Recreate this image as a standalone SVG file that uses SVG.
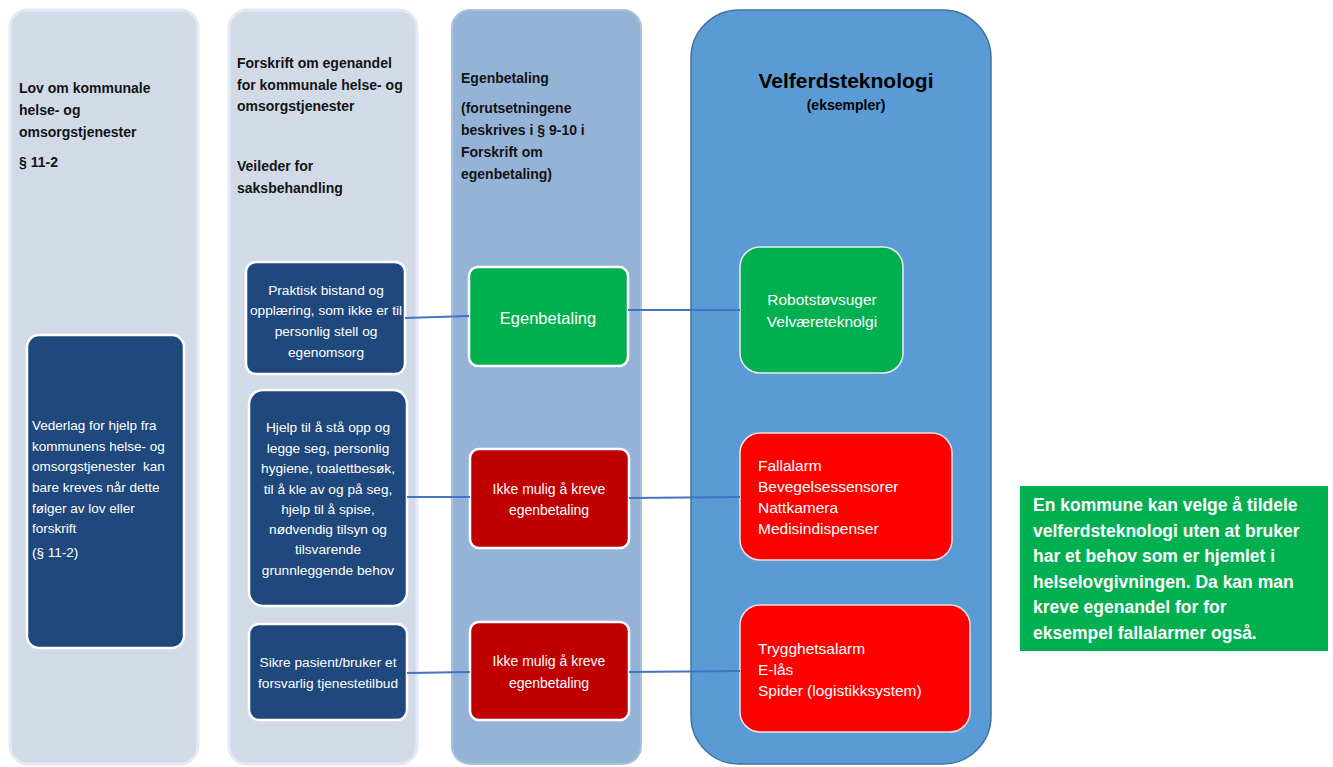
<svg xmlns="http://www.w3.org/2000/svg" width="1333" height="767" viewBox="0 0 1333 767">
<style>
.col{fill:#d2dae8;stroke:#e4eaf4;stroke-width:3}
.hdr{font-family:"Liberation Sans",Arial,sans-serif;font-weight:bold;font-size:14px;fill:#141414}
.navy{fill:#1f497d;stroke:#ffffff;stroke-width:2.5}
.wt{font-family:"Liberation Sans",Arial,sans-serif;fill:#ffffff}
.c{text-anchor:middle}
.con{stroke:#4472c4;stroke-width:2;fill:none}
</style>
<rect width="1333" height="767" fill="#ffffff"/>
<g id="col1">
<rect class="col" x="10" y="10" width="188" height="754" rx="18"/>
<text class="hdr"><tspan x="19" y="93">Lov om kommunale</tspan><tspan x="19" y="115">helse- og</tspan><tspan x="19" y="137">omsorgstjenester</tspan><tspan x="19" y="167">§ 11-2</tspan></text>
</g>
<g id="col1-box">
<rect class="navy" x="27" y="335" width="157" height="313" rx="12"/>
<text class="wt" font-size="13.5"><tspan x="32" y="430">Vederlag for hjelp fra</tspan><tspan x="32" y="451">kommunens helse- og</tspan><tspan x="32" y="471">omsorgstjenester&#160; kan</tspan><tspan x="32" y="492">bare kreves når dette</tspan><tspan x="32" y="513">følger av lov eller</tspan><tspan x="32" y="533">forskrift</tspan><tspan x="32" y="557">(§ 11-2)</tspan></text>
</g>
<g id="col2">
<rect class="col" x="229" y="10" width="188" height="754" rx="18"/>
<text class="hdr"><tspan x="237" y="68">Forskrift om egenandel</tspan><tspan x="237" y="90">for kommunale helse- og</tspan><tspan x="237" y="111">omsorgstjenester</tspan><tspan x="237" y="171">Veileder for</tspan><tspan x="237" y="193">saksbehandling</tspan></text>
</g>
<g id="box-a">
<rect class="navy" x="246" y="262" width="159" height="112" rx="10"/>
<text class="wt c" font-size="13.7"><tspan x="326" y="295">Praktisk bistand og</tspan><tspan x="326" y="315">opplæring, som ikke er til</tspan><tspan x="326" y="336">personlig stell og</tspan><tspan x="326" y="357">egenomsorg</tspan></text>
</g>
<g id="box-b">
<rect class="navy" x="249" y="390" width="158" height="216" rx="14"/>
<text class="wt c" font-size="13.7"><tspan x="328" y="432">Hjelp til å stå opp og</tspan><tspan x="328" y="453">legge seg, personlig</tspan><tspan x="328" y="473">hygiene, toalettbesøk,</tspan><tspan x="328" y="494">til å kle av og på seg,</tspan><tspan x="328" y="514">hjelp til å spise,</tspan><tspan x="328" y="534">nødvendig tilsyn og</tspan><tspan x="328" y="554">tilsvarende</tspan><tspan x="328" y="575">grunnleggende behov</tspan></text>
</g>
<g id="box-c">
<rect class="navy" x="249" y="624" width="158" height="96" rx="10"/>
<text class="wt c" font-size="13.7"><tspan x="328" y="667">Sikre pasient/bruker et</tspan><tspan x="328" y="688">forsvarlig tjenestetilbud</tspan></text>
</g>
<g id="col3">
<rect x="452" y="10" width="189" height="754" rx="18" fill="#95b3d7" stroke="#a9c1df" stroke-width="2"/>
<text class="hdr"><tspan x="461" y="83">Egenbetaling</tspan><tspan x="461" y="113">(forutsetningene</tspan><tspan x="461" y="135">beskrives i § 9-10 i</tspan><tspan x="461" y="157">Forskrift om</tspan><tspan x="461" y="179">egenbetaling)</tspan></text>
</g>
<g id="egen">
<rect x="469" y="267" width="159" height="99" rx="9" fill="#00b050" stroke="#ffffff" stroke-width="2.5"/>
<text class="wt c" font-size="16.5" x="548" y="324">Egenbetaling</text>
</g>
<g id="ikke1">
<rect x="470" y="449" width="159" height="99" rx="9" fill="#c00000" stroke="#ffffff" stroke-width="2.5"/>
<text class="wt c" font-size="14"><tspan x="549" y="494">Ikke mulig å kreve</tspan><tspan x="549" y="515">egenbetaling</tspan></text>
</g>
<g id="ikke2">
<rect x="470" y="622" width="159" height="98" rx="9" fill="#c00000" stroke="#ffffff" stroke-width="2.5"/>
<text class="wt c" font-size="14"><tspan x="549" y="666">Ikke mulig å kreve</tspan><tspan x="549" y="688">egenbetaling</tspan></text>
</g>
<g id="col4">
<rect x="691" y="10" width="300" height="754" rx="48" fill="#5b9bd5" stroke="#41719c" stroke-width="1.5"/>
<text font-family="'Liberation Sans',Arial,sans-serif" font-weight="bold" fill="#000000" text-anchor="middle"><tspan x="846" y="88" font-size="21">Velferdsteknologi</tspan><tspan x="846" y="110" font-size="14">(eksempler)</tspan></text>
</g>
<g id="vt-green">
<rect x="740" y="247" width="163" height="126" rx="20" fill="#00b050" stroke="#e6f0e6" stroke-width="1.5"/>
<text class="wt c" font-size="15.5"><tspan x="822" y="305">Robotstøvsuger</tspan><tspan x="822" y="327">Velværeteknolgi</tspan></text>
</g>
<g id="vt-red1">
<rect x="740" y="433" width="212" height="127" rx="20" fill="#ff0000" stroke="#f3e0e0" stroke-width="1.5"/>
<text class="wt" font-size="15.5"><tspan x="758" y="471">Fallalarm</tspan><tspan x="758" y="492">Bevegelsessensorer</tspan><tspan x="758" y="513">Nattkamera</tspan><tspan x="758" y="534">Medisindispenser</tspan></text>
</g>
<g id="vt-red2">
<rect x="740" y="605" width="230" height="127" rx="20" fill="#ff0000" stroke="#f3e0e0" stroke-width="1.5"/>
<text class="wt" font-size="15.5"><tspan x="758" y="654">Trygghetsalarm</tspan><tspan x="758" y="675">E-lås</tspan><tspan x="758" y="696">Spider (logistikksystem)</tspan></text>
</g>
<g id="note">
<rect x="1020" y="486" width="308" height="165" fill="#00b050"/>
<text class="wt" font-size="17.5" font-weight="bold"><tspan x="1033" y="511">En kommune kan velge å tildele</tspan><tspan x="1033" y="537">velferdsteknologi uten at bruker</tspan><tspan x="1033" y="562">har et behov som er hjemlet i</tspan><tspan x="1033" y="588">helselovgivningen. Da kan man</tspan><tspan x="1033" y="613">kreve egenandel for for</tspan><tspan x="1033" y="639">eksempel fallalarmer også.</tspan></text>
</g>
<g id="connectors">
<line class="con" x1="405" y1="318" x2="469" y2="316"/>
<line class="con" x1="628" y1="310" x2="740" y2="310"/>
<line class="con" x1="407" y1="497" x2="470" y2="497"/>
<line class="con" x1="629" y1="498" x2="740" y2="497"/>
<line class="con" x1="407" y1="673" x2="470" y2="672"/>
<line class="con" x1="629" y1="672" x2="740" y2="671"/>
</g>
</svg>
